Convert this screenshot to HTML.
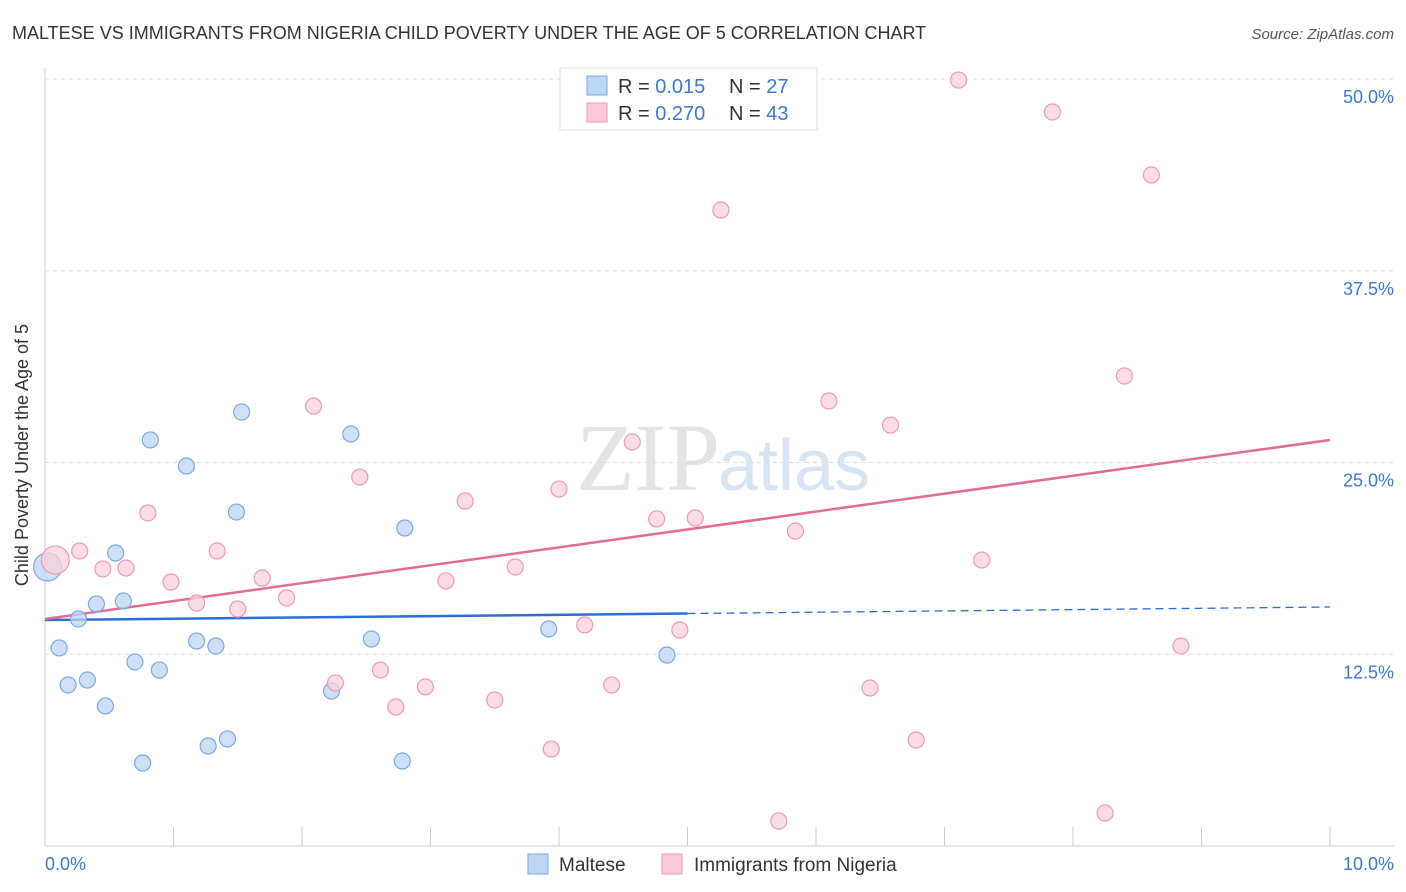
<!DOCTYPE html>
<html><head><meta charset="utf-8"><style>
body{margin:0;background:#fff;font-family:"Liberation Sans",sans-serif;}
svg{display:block}
</style></head><body>
<svg id="c" width="1406" height="892" xmlns="http://www.w3.org/2000/svg">
<text x="12" y="39" font-size="18" fill="#333">MALTESE VS IMMIGRANTS FROM NIGERIA CHILD POVERTY UNDER THE AGE OF 5 CORRELATION CHART</text>
<text x="1394" y="39" font-size="15" fill="#555" font-style="italic" text-anchor="end">Source: ZipAtlas.com</text>
<text x="720" y="490" font-size="96" fill="#e4e4e4" text-anchor="end" font-family="Liberation Serif,serif">ZIP</text>
<text x="718" y="490" font-size="72" fill="#d6e4f4">atlas</text>
<g id="grid"></g><g id="axes"></g><g id="lines"></g><g id="pts"></g>
<text x="28" y="455" font-size="18" fill="#333" text-anchor="middle" transform="rotate(-90 28 455)">Child Poverty Under the Age of 5</text>
<text x="45" y="870" font-size="18" fill="#3a78d8">0.0%</text>
<text x="1394" y="870" font-size="18" fill="#3a78d8" text-anchor="end">10.0%</text>
<g>
<rect x="560" y="68" width="257" height="62" fill="#fff" stroke="#ddd"/>
<rect x="587" y="76" width="20" height="19" fill="#bcd6f5" stroke="#7aa8e0"/>
<rect x="587" y="103" width="20" height="19" fill="#fbc9d8" stroke="#eb9ab4"/>
<text x="618" y="93" font-size="20" fill="#333">R = <tspan fill="#3a78d8">0.015</tspan><tspan x="729">N = </tspan><tspan fill="#3a78d8">27</tspan></text>
<text x="618" y="120" font-size="20" fill="#333">R = <tspan fill="#3a78d8">0.270</tspan><tspan x="729">N = </tspan><tspan fill="#3a78d8">43</tspan></text>
</g>
<g>
<rect x="528" y="854" width="20" height="20" fill="#bcd6f5" stroke="#7aa8e0"/>
<text x="559" y="871" font-size="19" fill="#333">Maltese</text>
<rect x="662" y="854" width="20" height="20" fill="#fbc9d8" stroke="#eb9ab4"/>
<text x="694" y="871" font-size="19" fill="#333">Immigrants from Nigeria</text>
</g>
</svg>
<script>
const yTicks=[12.5,25,37.5,50];
const yTickLabels=["12.5%","25.0%","37.5%","50.0%"];
const maltX=[0.02,0.11,0.18,0.33,0.26,0.40,0.47,0.55,0.61,0.70,0.76,0.82,0.89,1.10,1.18,1.27,1.33,1.42,1.49,1.53,2.23,2.38,2.54,2.78,2.80,3.92,4.84];
const maltY=[18.19,12.91,10.5,10.82,14.8,15.78,9.13,19.1,15.97,12.0,5.41,26.47,11.47,24.77,13.36,6.52,13.04,6.98,21.77,28.29,10.1,26.86,13.49,5.54,20.73,14.15,12.45];
const nigX=[0.08,0.27,0.45,0.63,0.80,0.98,1.18,1.34,1.50,1.69,1.88,2.09,2.26,2.45,2.61,2.73,2.96,3.12,3.27,3.50,3.66,3.94,4.00,4.20,4.41,4.57,4.76,4.94,5.06,5.26,5.71,5.84,6.10,6.42,6.58,6.78,7.11,7.29,7.84,8.25,8.40,8.61,8.84];
const nigY=[18.64,19.23,18.06,18.12,21.71,17.21,15.84,19.23,15.45,17.47,16.17,28.68,10.63,24.05,11.47,9.06,10.37,17.28,22.49,9.52,18.19,6.32,23.27,14.41,10.5,26.34,21.32,14.08,21.38,41.46,1.63,20.53,29.01,10.3,27.44,6.91,49.93,18.64,47.85,2.15,30.64,43.74,13.04];
const maltTrend=[14.73,15.58]; // y at x=0 and x=10
const nigTrend=[14.8,26.47];
const NS="http://www.w3.org/2000/svg";
const X=v=>45+v*128.5, Y=v=>846-v*15.34;
function mk(t,a,p){const e=document.createElementNS(NS,t);for(const k in a)e.setAttribute(k,a[k]);document.getElementById(p).appendChild(e);return e;}
yTicks.forEach((t,i)=>{
 const g=mk('line',{x1:45,x2:1394,y1:Y(t),y2:Y(t),stroke:'#ddd','stroke-dasharray':'4 4'},'grid');
 
 
 const l=mk('text',{x:1394,y:Y(t)+24,'font-size':18,fill:'#3a78d8','text-anchor':'end'},'grid');
 l.textContent=yTickLabels[i];
 
 
});
const ya=mk('line',{x1:45,x2:45,y1:68,y2:846,stroke:'#ccc'},'axes');


const xa=mk('line',{x1:45,x2:1394,y1:846,y2:846,stroke:'#ccc'},'axes');


for(let i=0;i<=10;i++){const t=mk('line',{x1:X(i),x2:X(i),y1:827,y2:846,stroke:'#ccc'},'axes');
 
 }
function pts(xs,ys,fill,stroke,name,bigIdx){xs.forEach((x,i)=>{
 const c=mk('circle',{cx:X(x),cy:Y(ys[i]),r:i===bigIdx?14:8,fill:fill,'fill-opacity':0.75,stroke:stroke,'stroke-width':1.2},'pts');
 
 });}
pts(maltX,maltY,'#bcd6f5','#7aa8e0','maltese-point',0);
pts(nigX,nigY,'#fbd0dd','#eb9ab4','nigeria-point',0);
const mAt=x=>maltTrend[0]+(maltTrend[1]-maltTrend[0])*x/10;
const l1=mk('line',{x1:X(0),y1:Y(mAt(0)),x2:X(5),y2:Y(mAt(5)),stroke:'#2a6fd4','stroke-width':2.5},'lines');


const l2=mk('line',{x1:X(5),y1:Y(mAt(5)),x2:X(10),y2:Y(mAt(10)),stroke:'#2a6fd4','stroke-width':1.3,'stroke-dasharray':'8 5'},'lines');


const l3=mk('line',{x1:X(0),y1:Y(nigTrend[0]),x2:X(10),y2:Y(nigTrend[1]),stroke:'#e46b94','stroke-width':2.5},'lines');


</script>
</body></html>
